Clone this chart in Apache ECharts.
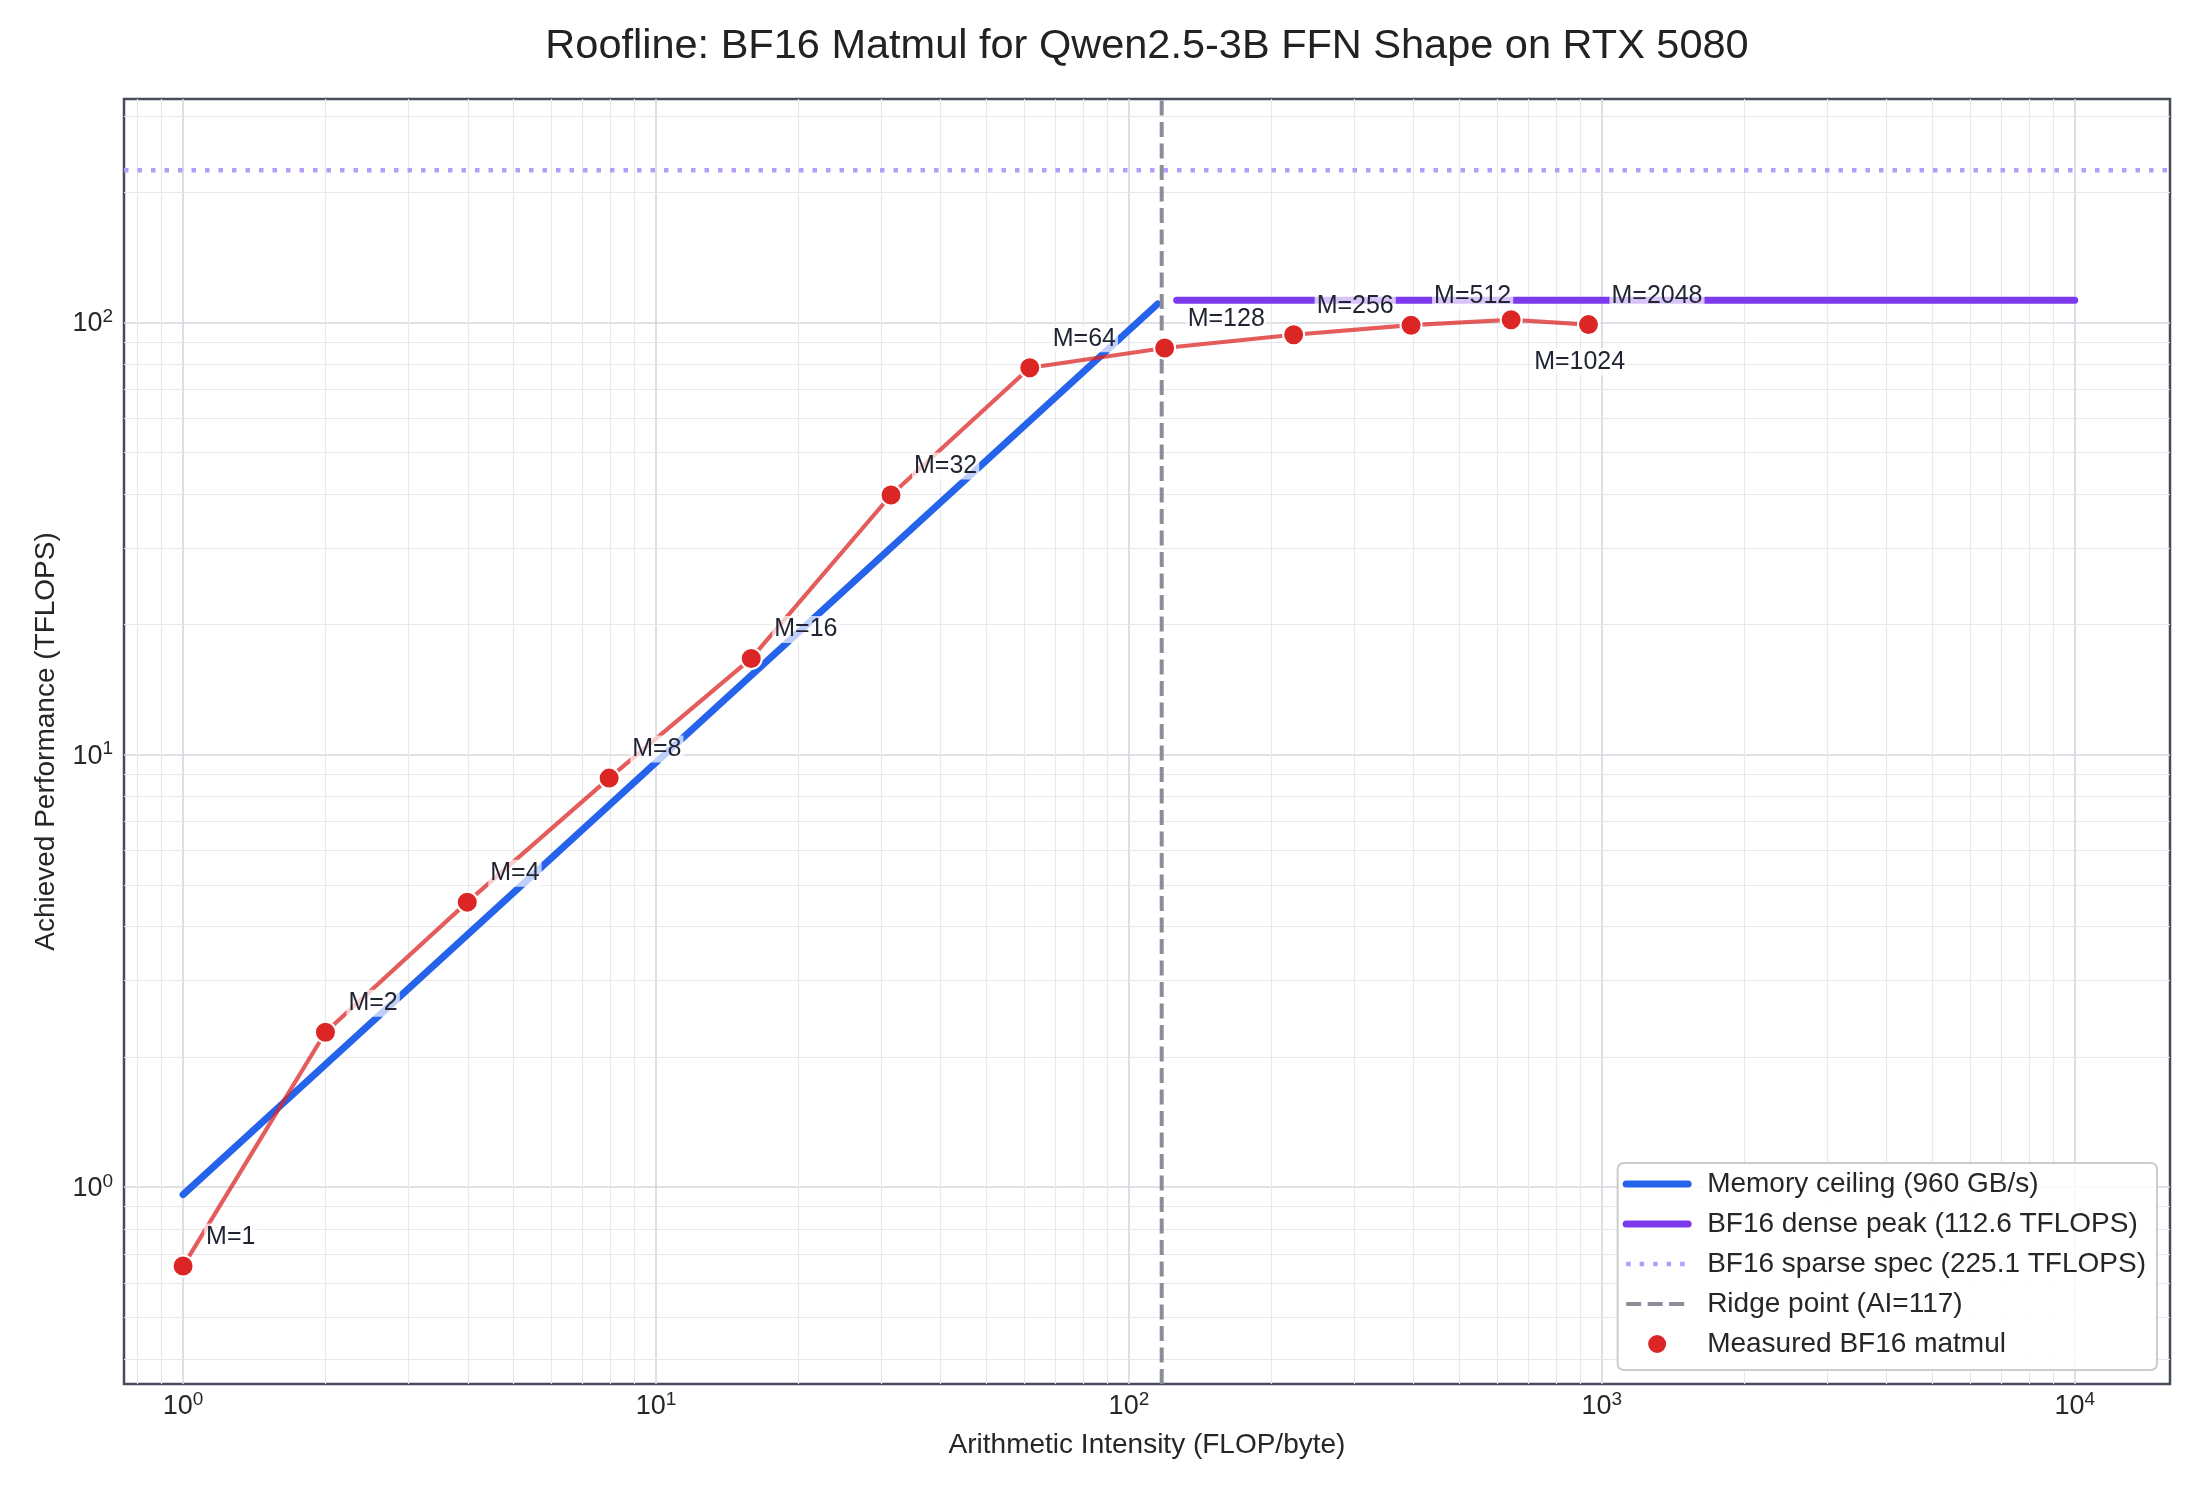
<!DOCTYPE html>
<html>
<head>
<meta charset="utf-8">
<script src="https://cdn.jsdelivr.net/npm/echarts@6/dist/echarts.min.js"></script>
<style>
html, body { margin: 0; padding: 0; background: #fff; }
#main { width: 2200px; height: 1500px; }
</style>
</head>
<body>
<div id="main"></div>
<script>
var FONT = 'Liberation Sans, Arial, sans-serif';
var titleText = 'Roofline: BF16 Matmul for Qwen2.5-3B FFN Shape on RTX 5080';
var xName = 'Arithmetic Intensity (FLOP/byte)';
var yName = 'Achieved Performance (TFLOPS)';

// measured points (batch size M)
var mSizes = [1, 2, 4, 8, 16, 32, 64, 128, 256, 512, 1024, 2048];
var measuredAI = [1.0, 2.0, 3.99, 7.96, 15.9, 31.4, 61.7, 119, 223, 395, 643, 937];
var measuredTflops = [0.656, 2.28, 4.56, 8.83, 16.7, 39.9, 78.6, 87.3, 93.7, 98.6, 101.5, 98.9];

// roofline ceilings
var memAI = [1, 115];
var memTflops = [0.96, 110.4];
var denseAI = [126.2, 10000];
var denseTflops = [112.6, 112.6];
var sparseTflops = 225.1;
var ridgeAI = 117.3;

var legendNames = ['Memory ceiling (960 GB/s)', 'BF16 dense peak (112.6 TFLOPS)',
  'BF16 sparse spec (225.1 TFLOPS)', 'Ridge point (AI=117)', 'Measured BF16 matmul'];

// axis limits
var xMin = 0.75, xMax = 15900;
var yMin = 0.35, yMax = 329;

// minor grid positions (log decades)
var xMinor = [0.8, 0.9];
[1, 10, 100, 1000].forEach(function (d) {
  for (var k = 2; k <= 9; k++) xMinor.push(k * d);
});
var yMinor = [0.4, 0.5, 0.6, 0.7, 0.8, 0.9];
[1, 10].forEach(function (d) {
  for (var k = 2; k <= 9; k++) yMinor.push(k * d);
});
yMinor.push(200, 300);

var zip = function (xs, ys) {
  return xs.map(function (x, i) { return [x, ys[i]]; });
};

var tickFormatter = function (v) {
  var e = Math.log10(v);
  var r = Math.round(e);
  if (Math.abs(e - r) > 1e-6) return '';
  return '{b|10}{s|' + r + '}';
};
var tickRich = {
  b: { fontSize: 27, fontFamily: FONT, color: '#262626', padding: [3, 0, 0, 0], verticalAlign: 'bottom' },
  s: { fontSize: 19, fontFamily: FONT, color: '#262626', verticalAlign: 'top' }
};

var myChart = echarts.init(document.getElementById('main'));

var minorLines = xMinor.map(function (v) { return { xAxis: v }; })
  .concat(yMinor.map(function (v) { return { yAxis: v }; }));

var scatterData = measuredAI.map(function (x, i) {
  var item = { value: [x, measuredTflops[i]] };
  if (mSizes[i] === 1024) {
    item.label = { offset: [21, 42] };
  }
  return item;
});

// legend entries for line series: hide the symbol, keep the line
var noSymbol = { color: 'rgba(0,0,0,0)', borderWidth: 0, opacity: 0 };
var legendData = [
  { name: legendNames[0], itemStyle: noSymbol, lineStyle: { width: 7, cap: 'round' } },
  { name: legendNames[1], itemStyle: noSymbol, lineStyle: { width: 7, cap: 'round' } },
  { name: legendNames[2], itemStyle: noSymbol, lineStyle: { width: 4.5 } },
  { name: legendNames[3], itemStyle: noSymbol, lineStyle: { width: 4 } },
  { name: legendNames[4] }
];

option = {
  animation: false,
  backgroundColor: '#ffffff',
  title: {
    text: titleText,
    left: 1147,
    textAlign: 'center',
    top: 26,
    padding: 0,
    textStyle: { fontFamily: FONT, fontSize: 41.5, fontWeight: 'normal', color: '#222222' }
  },
  grid: {
    left: 124, right: 30, top: 99, bottom: 116,
    containLabel: false,
    show: true,
    borderColor: '#454c5a',
    borderWidth: 2.5,
    backgroundColor: 'transparent'
  },
  legend: {
    orient: 'vertical',
    right: 43,
    bottom: 130,
    itemWidth: 62,
    itemHeight: 20,
    itemGap: 12,
    padding: [7, 11, 12, 5],
    backgroundColor: 'rgba(255,255,255,0.85)',
    borderColor: '#cccccc',
    borderWidth: 2,
    borderRadius: 6,
    textStyle: { fontFamily: FONT, fontSize: 28, color: '#262626', padding: [0, 0, 0, 14], lineHeight: 28 },
    data: legendData
  },
  xAxis: {
    type: 'log',
    logBase: 10,
    min: xMin,
    max: xMax,
    name: xName,
    nameLocation: 'middle',
    nameGap: 47,
    nameTextStyle: { fontFamily: FONT, fontSize: 28, color: '#262626' },
    axisLine: { show: false },
    axisTick: { show: false },
    axisLabel: { margin: 6, formatter: tickFormatter, rich: tickRich },
    splitLine: { show: true, showMinLine: false, showMaxLine: false, lineStyle: { color: '#d6d7de', width: 1.6 } }
  },
  yAxis: {
    type: 'log',
    logBase: 10,
    min: yMin,
    max: yMax,
    name: yName,
    nameLocation: 'middle',
    nameGap: 64,
    nameTextStyle: { fontFamily: FONT, fontSize: 28, color: '#262626' },
    axisLine: { show: false },
    axisTick: { show: false },
    axisLabel: { margin: 11, formatter: tickFormatter, rich: tickRich },
    splitLine: { show: true, showMinLine: false, showMaxLine: false, lineStyle: { color: '#d6d7de', width: 1.6 } }
  },
  series: [
    {
      name: 'minor-grid',
      type: 'line',
      data: [],
      silent: true,
      z: 1,
      markLine: {
        silent: true,
        z: 1,
        symbol: ['none', 'none'],
        label: { show: false },
        lineStyle: { color: '#e7e7ec', width: 1.2, type: 'solid' },
        emphasis: { disabled: true },
        data: minorLines
      }
    },
    {
      name: legendNames[0],
      type: 'line',
      data: zip(memAI, memTflops),
      symbol: 'none',
      z: 3,
      itemStyle: { color: '#2563eb' },
      lineStyle: { color: '#2563eb', width: 7, cap: 'round' }
    },
    {
      name: legendNames[1],
      type: 'line',
      data: zip(denseAI, denseTflops),
      symbol: 'none',
      z: 3,
      itemStyle: { color: '#7c3aed' },
      lineStyle: { color: '#7c3aed', width: 7, cap: 'round' }
    },
    {
      name: legendNames[2],
      type: 'line',
      data: [[xMin, sparseTflops], [xMax, sparseTflops]],
      symbol: 'none',
      z: 3,
      itemStyle: { color: '#b49cfa' },
      lineStyle: { color: '#b49cfa', width: 4.5, type: [4.5, 9] }
    },
    {
      name: legendNames[3],
      type: 'line',
      data: [[ridgeAI, yMin], [ridgeAI, yMax]],
      symbol: 'none',
      z: 3,
      itemStyle: { color: '#898e99' },
      lineStyle: { color: '#898e99', width: 4, type: [15, 6.5] }
    },
    {
      name: 'measured-line',
      type: 'line',
      data: zip(measuredAI, measuredTflops),
      symbol: 'none',
      silent: true,
      z: 4,
      lineStyle: { color: '#dc2626', opacity: 0.75, width: 4.2 }
    },
    {
      name: legendNames[4],
      type: 'scatter',
      data: scatterData,
      symbolSize: 21,
      z: 5,
      itemStyle: { color: '#dc2626', borderColor: '#ffffff', borderWidth: 2, opacity: 1 },
      label: {
        show: true,
        position: 'inside',
        align: 'left',
        verticalAlign: 'middle',
        offset: [21, -29],
        fontFamily: FONT,
        fontSize: 25,
        color: '#1f2430',
        backgroundColor: 'rgba(255,255,255,0.7)',
        padding: [1, 2],
        formatter: function (p) { return 'M=' + mSizes[p.dataIndex]; }
      }
    }
  ]
};
myChart.setOption(option);
</script>
</body>
</html>
